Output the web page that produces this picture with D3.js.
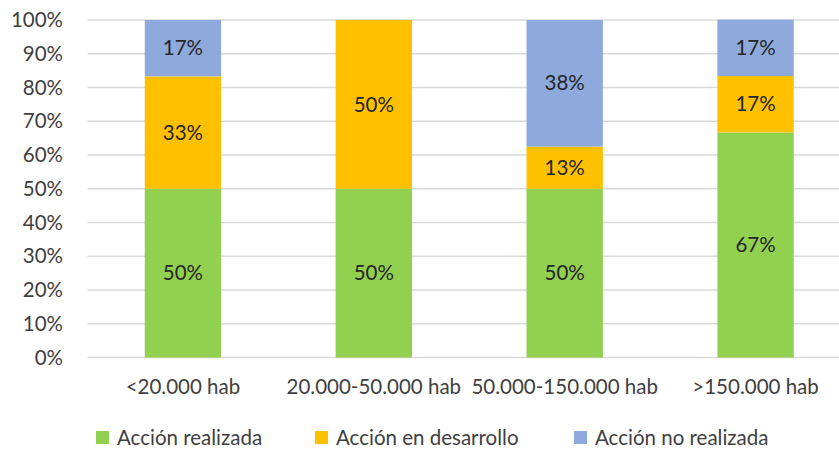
<!DOCTYPE html>
<html><head><meta charset="utf-8">
<script src="https://cdn.jsdelivr.net/npm/d3@7"></script>
<style>body{margin:0;background:#fff}svg{display:block}text{font-family:Lato,"Open Sans",sans-serif;font-weight:400}</style>
</head><body>
<script>
const categories = ["<20.000 hab","20.000-50.000 hab","50.000-150.000 hab",">150.000 hab"];
const seriesNames = ["Acción realizada","Acción en desarrollo","Acción no realizada"];
const realizada = [50, 50, 50, 66.7];
const desarrollo = [33.3, 50, 12.5, 16.7];
const noRealizada = [16.7, 0, 37.5, 16.7];
const labelsRealizada = ["50%","50%","50%","67%"];
const labelsDesarrollo = ["33%","50%","13%","17%"];
const labelsNoRealizada = ["17%","","38%","17%"];
const yTicks = [0,10,20,30,40,50,60,70,80,90,100];
const colors = ["#92D050","#FFC000","#8EA9DB"];

const W=839,H=450;
const svg=d3.select("body").append("svg").attr("width",W).attr("height",H);
const x=d3.scaleBand().domain(categories).range([87.5,851]).paddingInner(0.6).paddingOuter(0.3);
const y=d3.scaleLinear().domain([0,100]).range([357.5,20]);
const fs=20.5;
const txt="#404040";

// gridlines
svg.append("g").selectAll("line").data(yTicks).join("line")
 .attr("x1",87.5).attr("x2",851).attr("y1",d=>y(d)).attr("y2",d=>y(d))
 .attr("stroke","#D9D9D9").attr("stroke-width",1.3);

// y axis labels
const yAxis=d3.axisLeft(y).tickValues(yTicks).tickFormat(d=>d+"%").tickSize(0).tickPadding(0);
const ga=svg.append("g").attr("transform","translate(63,0)").call(yAxis);
ga.select(".domain").remove();
ga.selectAll("text").attr("font-size",fs).attr("fill",txt).attr("font-family","Lato,sans-serif").attr("font-weight",400);

// stacked data
const rows=categories.map((c,i)=>({cat:c,s0:realizada[i],s1:desarrollo[i],s2:noRealizada[i],l0:labelsRealizada[i],l1:labelsDesarrollo[i],l2:labelsNoRealizada[i]}));
const stack=d3.stack().keys(["s0","s1","s2"])(rows);
stack.forEach((layer,k)=>{
  const g=svg.append("g");
  g.selectAll("rect").data(layer).join("rect")
   .attr("x",d=>x(d.data.cat)).attr("width",x.bandwidth())
   .attr("y",d=>y(d[1])).attr("height",d=>y(d[0])-y(d[1]))
   .attr("fill",colors[k]);
  g.selectAll("text").data(layer.filter(d=>d[1]-d[0]>0)).join("text")
   .attr("x",d=>x(d.data.cat)+x.bandwidth()/2).attr("y",d=>y((d[0]+d[1])/2))
   .attr("dy","0.35em").attr("text-anchor","middle").attr("font-size",fs).attr("fill","#262626")
   .text(d=>d.data["l"+k]);
});

// x axis labels
const xAxis=d3.axisBottom(x).tickSize(0).tickPadding(0);
const gx=svg.append("g").attr("transform","translate(0,379)").call(xAxis);
gx.select(".domain").remove();
gx.selectAll("text").attr("font-size",fs).attr("fill",txt).attr("font-family","Lato,sans-serif").attr("font-weight",400);

// legend
const legX=[96,315,574];
const lg=svg.append("g").selectAll("g").data(seriesNames).join("g").attr("transform",(d,i)=>`translate(${legX[i]},431)`);
lg.append("rect").attr("width",13).attr("height",13).attr("fill",(d,i)=>colors[i]);
lg.append("text").attr("x",21).attr("y",6.5).attr("dy","0.35em").attr("font-size",fs).attr("fill",txt).text(d=>d);
</script>
</body></html>
